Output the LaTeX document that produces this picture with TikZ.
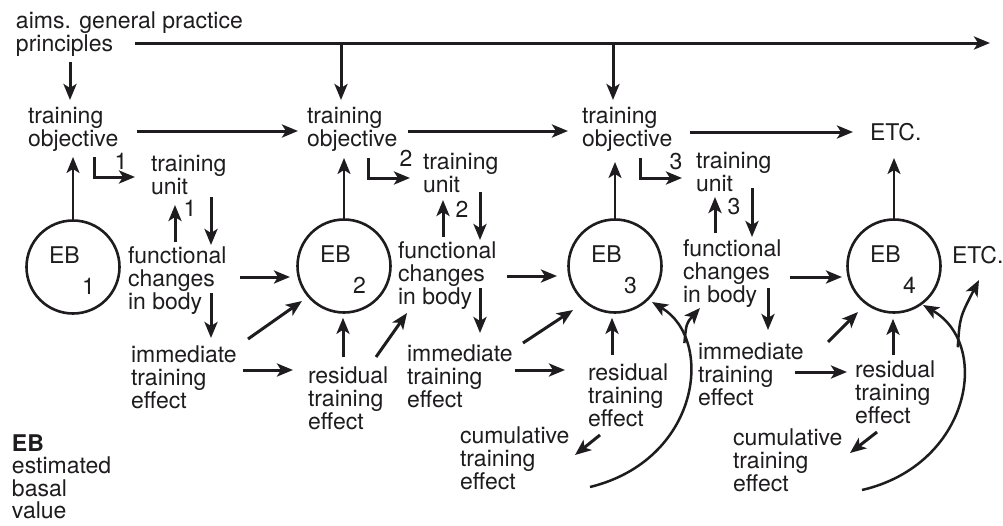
\documentclass[tikz,border=0pt]{standalone}
\usepackage{fontspec}
\setmainfont{TeX Gyre Heros}
\usetikzlibrary{arrows.meta,calc}
\definecolor{ink}{RGB}{30,28,30}
% left-aligned lines whose baseline is the first line
\newcommand\linesof[1]{\vtop{\halign{##\hfil\cr#1\crcr}}}
\begin{document}
\begin{tikzpicture}[x=1pt,y=-1pt,
  txt/.style={anchor=base west,inner sep=0pt,outer sep=0pt,text=ink,
              font=\fontsize{23}{23.3}\selectfont},
  num/.style={inner sep=0pt,text=ink,font=\fontsize{23}{23.3}\selectfont},
  ebc/.style={circle,draw=ink,line width=2.6pt,minimum size=93pt,inner sep=0pt},
  arr/.style={draw=ink,line width=3pt,-{Stealth[length=16pt,width=13pt,inset=4pt]}},
  thinarr/.style={arr,line width=2.2pt},
  curv/.style={arr,line width=2.5pt},
]
\useasboundingbox (0,0) rectangle (1003,525);

% text blocks
\node[txt] (aims)  at (16,28)   {\linesof{aims. general practice\cr principles}};
\node[txt] (obj1)  at (28,123)  {\linesof{training\cr objective}};
\node[txt] (obj2)  at (307,123) {\linesof{training\cr objective}};
\node[txt] (obj3)  at (582,123) {\linesof{training\cr objective}};
\node[txt] (etc1)  at (870,140) {ETC.};
\node[txt] (unit1) at (151,171) {\linesof{training\cr unit}};
\node[txt] (unit2) at (423,169) {\linesof{training\cr unit}};
\node[txt] (unit3) at (696,168) {\linesof{training\cr unit}};
\node[txt] (func1) at (128,263) {\linesof{functional\cr changes\cr in body}};
\node[txt] (func2) at (398,258) {\linesof{functional\cr changes\cr in body}};
\node[txt] (func3) at (683,256) {\linesof{functional\cr changes\cr in body}};
\node[txt] (imm1)  at (131,362) {\linesof{immediate\cr training\cr effect}};
\node[txt] (imm2)  at (407,361) {\linesof{immediate\cr training\cr effect}};
\node[txt] (imm3)  at (698,359) {\linesof{immediate\cr training\cr effect}};
\node[txt] (res2)  at (308,383) {\linesof{residual\cr training\cr effect}};
\node[txt] (res3)  at (588,380) {\linesof{residual\cr training\cr effect}};
\node[txt] (res4)  at (855,377) {\linesof{residual\cr training\cr effect}};
\node[txt] (cum3)  at (460,443) {\linesof{cumulative\cr training\cr effect}};
\node[txt] (cum4)  at (733,445) {\linesof{cumulative\cr training\cr effect}};
\node[txt] (etc2)  at (952,263) {ETC.};
\node[txt,font=\fontsize{23}{22.6}\selectfont] (legend) at (12,451)
  {\linesof{\textbf{EB}\cr estimated\cr basal\cr value}};

% estimated basal value circles
\node[ebc] (eb1) at (73,267)  {};
\node[ebc] (eb2) at (344,266) {};
\node[ebc] (eb3) at (615,266) {};
\node[ebc] (eb4) at (894,266) {};
\foreach \i/\cx/\cy in {1/73/267,2/344/266,3/615/266,4/894/266}{
  \node[txt] (eb\i l) at (\cx-24,\cy-4) {EB};
  \node[txt] (eb\i n) at (\cx+9,\cy+27) {\i};
}

% unit numbers
\node[num] (n1a) at (121,161) {1};
\node[num] (n2a) at (406,158) {2};
\node[num] (n3a) at (676,162) {3};
\node[num] (n1b) at (190,208) {1};
\node[num] (n2b) at (462,209) {2};
\node[num] (n3b) at (734,207) {3};

% top line of aims and principles
\coordinate (topend) at (990,43);
\draw[arr] ($(aims.base west)+(119,15)$) -- (topend);
\draw[arr] ($(obj2.base west)+(34,-80)$) -- ($(obj2.base west)+(34,-23)$);
\draw[arr] ($(obj3.base west)+(31,-80)$) -- ($(obj3.base west)+(31,-23)$);
\draw[arr] ($(aims.base west)+(54,34)$) -- ($(obj1.base west)+(42,-23)$);

% objective chain
\draw[arr] ($(obj1.base west)+(109,8)$) -- ($(obj2.base west)+(-9,8)$);
\draw[arr] ($(obj2.base west)+(101,8)$) -- ($(obj3.base west)+(-14,8)$);
\draw[arr] ($(obj3.base west)+(108,9)$) -- ($(etc1.base west)+(-17,-8)$);

% objective to training unit
\draw[arr] ($(obj1.base west)+(66,34)$) |- ($(unit1.base west)+(-16,6)$);
\draw[arr] ($(obj2.base west)+(61,35)$) |- ($(unit2.base west)+(-13,9)$);
\draw[arr] ($(obj3.base west)+(58,35)$) |- ($(unit3.base west)+(-14,10)$);

% unit <-> functional changes
\draw[arr] ($(func1.base west)+(47,-21)$) -- ($(unit1.base west)+(24,34)$);
\draw[arr] ($(unit1.base west)+(60,26)$) -- ($(func1.base west)+(83,-18)$);
\draw[arr] ($(func2.base west)+(45,-21)$) -- ($(unit2.base west)+(20,31)$);
\draw[arr] ($(unit2.base west)+(57,23)$) -- ($(func2.base west)+(82,-18)$);
\draw[arr] ($(func3.base west)+(32,-23)$) -- ($(unit3.base west)+(19,29)$);
\draw[arr] ($(unit3.base west)+(56,20)$) -- ($(func3.base west)+(69,-19)$);

% basal values up to objectives
\draw[thinarr] (eb1.north) -- ($(obj1.base west)+(45,34)$);
\draw[thinarr] (eb2.north) -- ($(obj2.base west)+(37,35)$);
\draw[thinarr] (eb3.north) -- ($(obj3.base west)+(33,39)$);
\draw[thinarr] (eb4.north) -- ($(etc1.base west)+(24,18)$);

% functional changes to next basal value
\draw[arr] ($(func1.base west)+(112,14)$) -- ($(eb2.center)+(-54,11)$);
\draw[arr] ($(func2.base west)+(109,18)$) -- ($(eb3.center)+(-58,10)$);
\draw[arr] ($(func3.base west)+(107,21)$) -- ($(eb4.center)+(-52,11)$);

% functional changes to immediate effect
\draw[arr] ($(func1.base west)+(83,30)$) -- ($(imm1.base west)+(80,-24)$);
\draw[arr] ($(func2.base west)+(82,30)$) -- ($(imm2.base west)+(73,-28)$);
\draw[arr] ($(func3.base west)+(85,32)$) -- ($(imm3.base west)+(70,-29)$);

% immediate effect to residual effect and next basal value
\draw[arr] ($(imm1.base west)+(112,8)$) -- ($(res2.base west)+(-15,-13)$);
\draw[arr] ($(imm2.base west)+(108,9)$) -- ($(res3.base west)+(-23,-10)$);
\draw[arr] ($(imm3.base west)+(97,13)$) -- ($(res4.base west)+(-8,-5)$);
\draw[arr] ($(imm1.base west)+(117,-23)$) -- ($(eb2.center)+(-42,35)$);
\draw[arr] ($(imm2.base west)+(116,-18)$) -- ($(eb3.center)+(-42,44)$);
\draw[arr] ($(imm3.base west)+(130,-17)$) -- ($(eb4.center)+(-36,46)$);

% residual effect to basal value
\draw[arr] ($(res2.base west)+(35,-26)$) -- ($(eb2.south)+(-1,4)$);
\draw[arr] ($(res3.base west)+(24,-25)$) -- ($(eb3.south)+(-3,4)$);
\draw[arr] ($(res4.base west)+(38,-22)$) -- ($(eb4.south)+(-1,5)$);
\draw[arr] ($(res2.base west)+(68,-26)$) -- ($(func2.base west)+(9,55)$);

% residual effect to cumulative effect
\draw[arr] ($(res3.base west)+(12,55)$) -- ($(cum3.base west)+(115,12)$);
\draw[arr] ($(res4.base west)+(22,55)$) -- ($(cum4.base west)+(117,8)$);

% cumulative effect feeding back
\draw[curv] ($(cum3.base west)+(130,44)$) .. controls +(110,-27) and +(63,38)
  .. coordinate[pos=0.75] (br3) ($(eb3.center)+(37,36)$);
\draw[curv] (br3) .. controls ($(br3)+(2,-20)$) .. ($(func3.base west)+(17,52)$);
\draw[curv] ($(cum4.base west)+(129,45)$) .. controls +(108,-25) and +(69,40)
  .. coordinate[pos=0.75] (br4) ($(eb4.center)+(29,39)$);
\draw[curv] (br4) .. controls ($(br4)+(2,-30)$) .. ($(etc2.base west)+(27,17)$);
\end{tikzpicture}
\end{document}
